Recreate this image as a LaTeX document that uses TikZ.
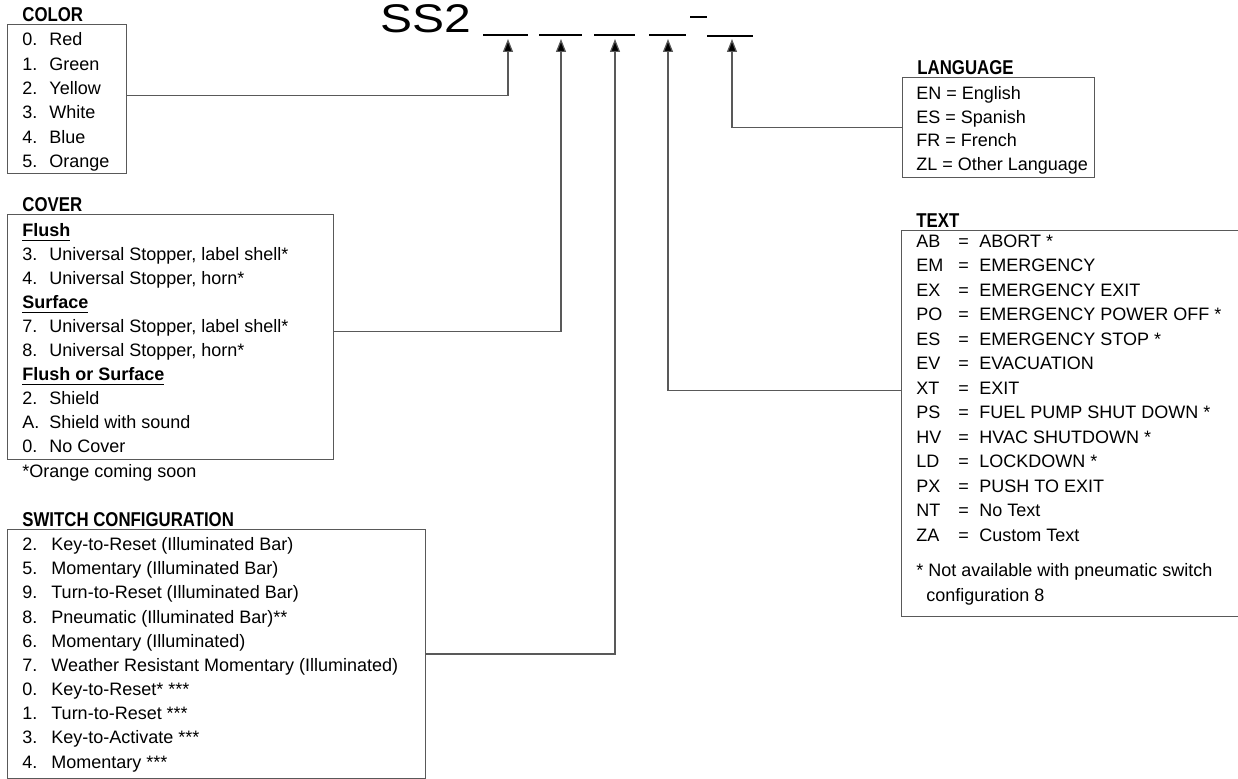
\documentclass[tikz,border=0pt]{standalone}
\usepackage{fontspec}
\setmainfont{Liberation Sans}
\newfontfamily\headfont{Liberation Sans}[FakeStretch=0.84]
\newfontfamily\partfont{Liberation Sans}[FakeStretch=1.2]
\usetikzlibrary{arrows.meta}

\definecolor{boxgray}{gray}{0.35}
\newcommand{\optrow}[3][13.5pt]{\makebox[#1][l]{#2}#3}
\newcommand{\coderow}[2]{\makebox[21pt][l]{#1}\makebox[10.5pt][l]{=}#2}
\newcommand{\subhd}[1]{\textbf{\underline{#1}}}

\tikzset{
  optbox/.style={draw=boxgray, line width=0.6pt, anchor=north west, inner sep=0pt},
  head/.style={font=\headfont\bfseries\fontsize{10}{12}\selectfont, anchor=base west, inner sep=0pt},
  item/.style={font=\fontsize{9}{11}\selectfont, anchor=base west, inner sep=0pt},
  slotline/.style={line width=1pt},
  conn/.style={draw=boxgray, line width=0.6pt, -{Triangle[length=6.5pt,width=5pt,fill=black]}},
}

\begin{document}
\begin{tikzpicture}[x=0.5pt,y=-0.5pt]
\useasboundingbox (0,0) rectangle (1238,779);

% part number
\node[anchor=base west, inner sep=0pt, font=\partfont\fontsize{20}{24}\selectfont] (partno) at (380,33) {SS2};
\foreach \n/\xa/\xb/\xm/\ya in {1/483/528/508/35, 2/539/582/561/35, 3/594/635/615/35, 4/649/686/668/35, 5/707/753/732/36}{
  \draw[slotline] (\xa,\ya) -- (\xb,\ya);
  \coordinate (s\n) at (\xm,39);
}
\draw[slotline] (690,17) -- (707,17);

% color
\node[optbox, minimum width=59.5pt, minimum height=74.5pt] (colorbox) at (7,24) {};
\node[head] (colorhead) at ([shift={(15,-2.5)}]colorbox.north west) {COLOR};
\foreach \row [count=\i from 0] in {\optrow{0.}{Red}, \optrow{1.}{Green}, \optrow{2.}{Yellow},
    \optrow{3.}{White}, \optrow{4.}{Blue}, \optrow{5.}{Orange}}
  \node[item] (color\i) at (22,46+24.3*\i) {\row};

% cover
\node[optbox, minimum width=163pt, minimum height=122.5pt] (coverbox) at (7,214) {};
\node[head] (coverhead) at ([shift={(15,-2.5)}]coverbox.north west) {COVER};
\foreach \row [count=\i from 0] in {\subhd{Flush}, \optrow{3.}{Universal Stopper, label shell*},
    \optrow{4.}{Universal Stopper, horn*}, \subhd{Surface},
    \optrow{7.}{Universal Stopper, label shell*}, \optrow{8.}{Universal Stopper, horn*},
    \subhd{Flush or Surface}, \optrow{2.}{Shield}, \optrow{A.}{Shield with sound}, \optrow{0.}{No Cover}}
  \node[item] (cover\i) at (22,237+24*\i) {\row};
\node[item] (covernote) at (22,478) {*Orange coming soon};

% switch configuration
\node[optbox, minimum width=209pt, minimum height=124.5pt] (switchbox) at (7,529) {};
\node[head] (switchhead) at ([shift={(15,-2.5)}]switchbox.north west) {SWITCH CONFIGURATION};
\foreach \row [count=\i from 0] in {\optrow[14.5pt]{2.}{Key-to-Reset (Illuminated Bar)},
    \optrow[14.5pt]{5.}{Momentary (Illuminated Bar)}, \optrow[14.5pt]{9.}{Turn-to-Reset (Illuminated Bar)},
    \optrow[14.5pt]{8.}{Pneumatic (Illuminated Bar)**}, \optrow[14.5pt]{6.}{Momentary (Illuminated)},
    \optrow[14.5pt]{7.}{Weather Resistant Momentary (Illuminated)}, \optrow[14.5pt]{0.}{Key-to-Reset* ***},
    \optrow[14.5pt]{1.}{Turn-to-Reset ***}, \optrow[14.5pt]{3.}{Key-to-Activate ***},
    \optrow[14.5pt]{4.}{Momentary ***}}
  \node[item] (switch\i) at (22,550.7+24.15*\i) {\row};

% language
\node[optbox, minimum width=96pt, minimum height=50pt] (langbox) at (902,77) {};
\node[head] (langhead) at ([shift={(15,-2.5)}]langbox.north west) {LANGUAGE};
\foreach \row [count=\i from 0] in {EN = English, ES = Spanish, FR = French, ZL = Other Language}
  \node[item] (lang\i) at (916,99.3+23.8*\i) {\row};

% text
\node[optbox, minimum width=169.5pt, minimum height=193pt] (textbox) at (901,230) {};
\node[head] (texthead) at ([shift={(15,-2.5)}]textbox.north west) {TEXT};
\foreach \row [count=\i from 0] in {\coderow{AB}{ABORT *}, \coderow{EM}{EMERGENCY},
    \coderow{EX}{EMERGENCY EXIT}, \coderow{PO}{EMERGENCY POWER OFF *},
    \coderow{ES}{EMERGENCY STOP *}, \coderow{EV}{EVACUATION}, \coderow{XT}{EXIT},
    \coderow{PS}{FUEL PUMP SHUT DOWN *}, \coderow{HV}{HVAC SHUTDOWN *},
    \coderow{LD}{LOCKDOWN *}, \coderow{PX}{PUSH TO EXIT}, \coderow{NT}{No Text},
    \coderow{ZA}{Custom Text}}
  \node[item] (text\i) at (916,247.3+24.5*\i) {\row};
\node[item] (textnote) at (916,577) {* Not available with pneumatic switch};
\node[item] (textnote2) at (926,602) {configuration 8};

% connectors
\draw[conn] ([yshift=1.75pt]colorbox.east) -| (s1);
\draw[conn] ([yshift=2.75pt]coverbox.east) -| (s2);
\draw[conn] (switchbox.east) -| (s3);
\draw[conn] ([yshift=16.5pt]textbox.west) -| (s4);
\draw[conn] (langbox.west) -| (s5);

\end{tikzpicture}
\end{document}
